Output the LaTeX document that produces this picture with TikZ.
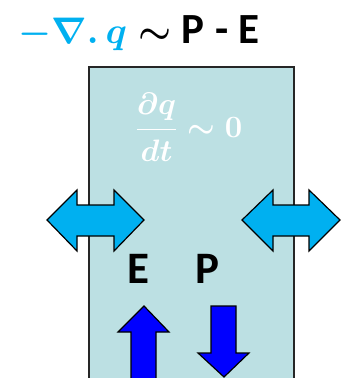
\RequirePackage{fix-cm}
\documentclass[tikz,border=0pt]{standalone}
\usepackage{amsmath}
\usepackage{fontspec}
\setmainfont{Carlito}
\definecolor{fluxcyan}{HTML}{00B0F0}
\definecolor{columnfill}{HTML}{BCE0E3}
\definecolor{rainblue}{HTML}{0000FF}
\tikzset{
  arrowshape/.style={draw=black,line width=1.2pt,line join=miter},
  labeltext/.style={font=\fontsize{45}{50}\selectfont\bfseries,inner sep=0pt}
}
\begin{document}
\begin{tikzpicture}[x=1pt,y=-1pt,line width=0.6pt]
  \useasboundingbox (0,0) rectangle (349,378);
  \begin{scope}
    \clip (0,0) rectangle (349,378);

    % The atmospheric column, running out of the picture at the bottom.
    \draw[fill=columnfill,draw=black!85,line width=1.5pt] (89,67) rectangle (294,400);

    % Horizontal moisture flux through the left and right walls.
    \draw[arrowshape,fill=fluxcyan] (47,220) -- (77,190) -- (77,205) -- (114,205) -- (114,190)
      -- (144,220) -- (114,251) -- (114,236) -- (77,236) -- (77,251) -- cycle;
    \draw[arrowshape,fill=fluxcyan] (242,220) -- (273,190) -- (273,205) -- (309,205) -- (309,190)
      -- (340,220) -- (309,251) -- (309,236) -- (273,236) -- (273,251) -- cycle;

    % Evaporation goes up, precipitation comes down.
    \draw[arrowshape,fill=rainblue] (144,306) -- (169,332) -- (156,332) -- (156,400)
      -- (131,400) -- (131,332) -- (118,332) -- cycle;
    \draw[arrowshape,fill=rainblue] (211,306) -- (236,306) -- (236,353) -- (249,353)
      -- (224,377) -- (198,353) -- (211,353) -- cycle;
  \end{scope}

  % Budget relation above the column.
  \node[anchor=base west,inner sep=0pt,font=\fontsize{37}{40}\selectfont\bfseries\boldmath] (budget) at (18,43)
    {\textcolor{fluxcyan}{$-\nabla.\,q$}\hspace{11pt}$\sim$\hspace{10pt}{\fontsize{43}{46}\selectfont P\hspace{11pt}-\hspace{10pt}E}};

  % Storage term inside the column.
  \node[inner sep=0pt,text=white,font=\fontsize{31}{36}\selectfont\boldmath] (storage) at (189,127)
    {$\dfrac{\partial q}{dt}\sim 0$};

  \node[labeltext] (evap) at (138,269) {E};
  \node[labeltext] (precip) at (207,269) {P};
\end{tikzpicture}
\end{document}
